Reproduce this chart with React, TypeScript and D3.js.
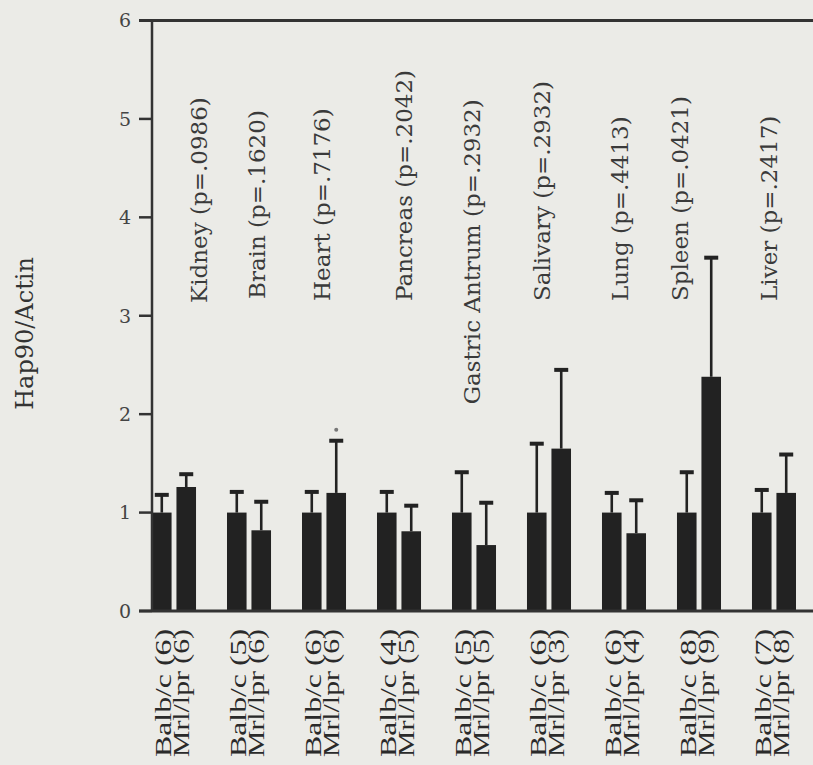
import React from "react";
import * as d3 from "d3";

const organs = ["Kidney", "Brain", "Heart", "Pancreas", "Gastric Antrum", "Salivary", "Lung", "Spleen", "Liver"];
const pValues = [".0986", ".1620", ".7176", ".2042", ".2932", ".2932", ".4413", ".0421", ".2417"];
const balbN = [6, 5, 6, 4, 5, 6, 6, 8, 7];
const mrlN = [6, 6, 6, 5, 5, 3, 4, 9, 8];
const balbMean = [1, 1, 1, 1, 1, 1, 1, 1, 1];
const balbErr = [0.18, 0.21, 0.21, 0.21, 0.41, 0.7, 0.2, 0.41, 0.23];
const mrlMean = [1.26, 0.82, 1.2, 0.81, 0.67, 1.65, 0.79, 2.38, 1.2];
const mrlErr = [0.13, 0.29, 0.53, 0.26, 0.43, 0.8, 0.335, 1.21, 0.39];
const significant = [false, false, true, false, false, false, false, false, false];
const yTicks = [0, 1, 2, 3, 4, 5, 6];
const groups = ["Balb/c", "Mrl/lpr"];

// layout tweaks for the rotated organ labels (not data)
const labelDx = [55, 38, 28, 35, 28, 23, 26, 11, 25];
const labelAt = [3.13, 3.17, 3.15, 3.15, 2.1, 3.15, 3.15, 3.15, 3.15];

const W = 813;
const H = 765;

export default function App() {
  const y = d3.scaleLinear().domain([0, 6]).range([611, 20.5]);
  const x0 = d3.scaleBand<string>().domain(organs).range([152, 796]).paddingInner(0.413).paddingOuter(0);
  const x1 = d3.scaleBand<string>().domain(groups).range([0, x0.bandwidth()]).paddingInner(0.2);

  const rows = organs.map((o, i) => ({
    organ: o,
    p: pValues[i],
    bars: [
      { g: groups[0], mean: balbMean[i], err: balbErr[i], n: balbN[i] },
      { g: groups[1], mean: mrlMean[i], err: mrlErr[i], n: mrlN[i] },
    ],
    sig: significant[i],
  }));

  const ink = "#222";
  const serif = "'DejaVu Serif', serif";

  return (
    <svg width={W} height={H} style={{ position: "fixed", left: 0, top: 0 }}>
      <rect x={0} y={0} width={W} height={H} fill="#ebebe7" />
      {/* bars */}
      {rows.map((r) => (
        <g key={r.organ} transform={`translate(${x0(r.organ)},0)`}>
          {r.bars.map((b) => {
            const bx = x1(b.g)!;
            const bw = x1.bandwidth();
            const cx = bx + bw / 2;
            const top = y(b.mean);
            const et = y(b.mean + b.err);
            return (
              <g key={b.g}>
                <rect x={bx} y={top} width={bw} height={y(0) - top} fill={ink} />
                <line x1={cx} x2={cx} y1={top} y2={et} stroke={ink} strokeWidth={2.6} />
                <line x1={cx - 7} x2={cx + 7} y1={et} y2={et} stroke={ink} strokeWidth={4} />
                {r.sig && b.g === groups[1] && <circle cx={cx} cy={et - 11} r={2} fill="#777" />}
              </g>
            );
          })}
        </g>
      ))}
      {/* organ labels */}
      {rows.map((r, i) => (
        <text
          key={"l" + r.organ}
          transform={`translate(${x0(r.organ)! + labelDx[i]},${y(labelAt[i])}) rotate(-90)`}
          fontFamily={serif}
          fontSize={23}
          fill="#3a3a3a"
          textAnchor="start"
        >
          {`${r.organ} (p=${r.p})`}
        </text>
      ))}
      {/* axes */}
      <line x1={152} x2={152} y1={y(6)} y2={y(0)} stroke="#333" strokeWidth={2.5} />
      <line x1={139} x2={W} y1={y(6)} y2={y(6)} stroke="#333" strokeWidth={3} />
      <line x1={139} x2={W} y1={y(0)} y2={y(0)} stroke="#333" strokeWidth={3} />
      {yTicks.map((t) => (
        <g key={t}>
          <line x1={139} x2={152} y1={y(t)} y2={y(t)} stroke="#333" strokeWidth={2.5} />
          <text x={131} y={y(t)} dy="0.36em" textAnchor="end" fontFamily={serif} fontSize={19} fill="#444">
            {t}
          </text>
        </g>
      ))}
      <text
        transform={`translate(33,${y(2.82)}) rotate(-90)`}
        textAnchor="middle"
        fontFamily={serif}
        fontSize={24}
        fill="#333"
      >
        Hap90/Actin
      </text>
      {/* group labels */}
      {rows.map((r) => {
        const c = x0(r.organ)! + x0.bandwidth() / 2;
        return (
          <g key={"b" + r.organ}>
            {r.bars.map((b, j) => (
              <text
                key={b.g}
                transform={`translate(${c - 3 + j * 18},629) rotate(-90)`}
                textAnchor="end"
                fontFamily="'Liberation Serif', serif"
                fontSize={24}
                textLength={128}
                lengthAdjust="spacingAndGlyphs"
                fill="#2a2a2a"
              >
                {`${b.g} (${b.n})`}
              </text>
            ))}
          </g>
        );
      })}
    </svg>
  );
}
